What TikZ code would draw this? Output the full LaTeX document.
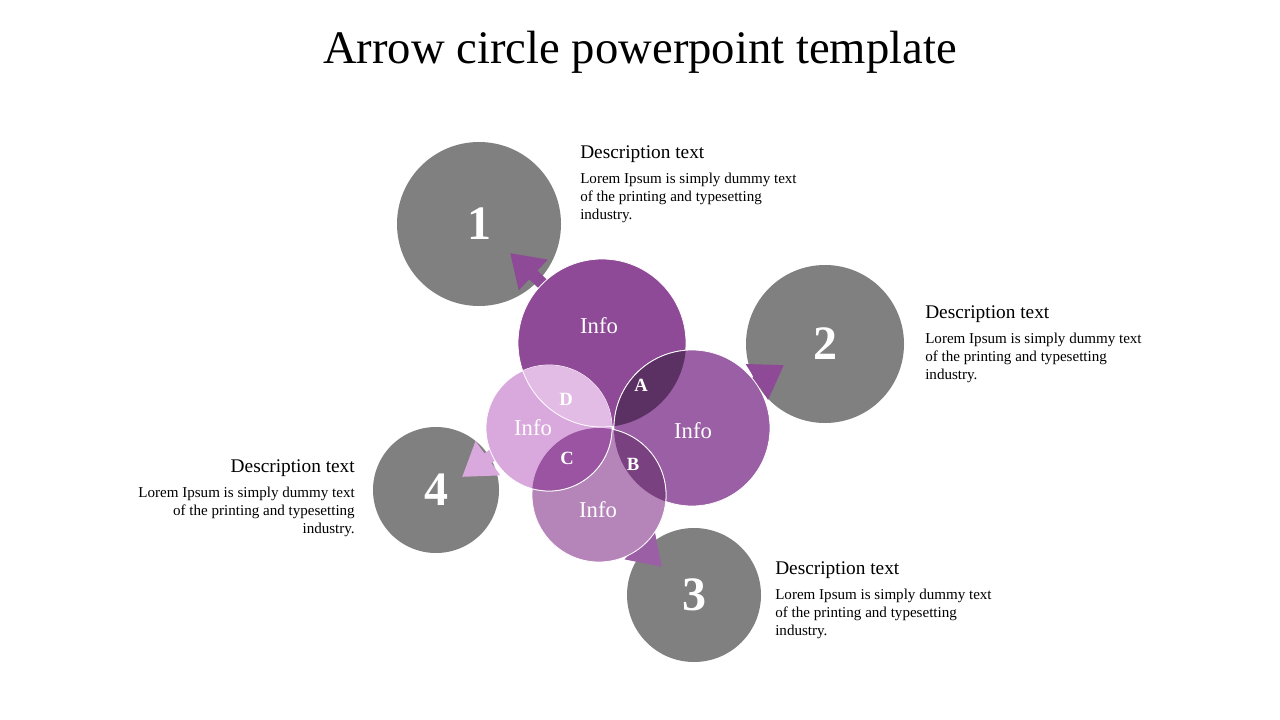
\documentclass[tikz,border=0pt]{standalone}
\usepackage{fontspec}
\setmainfont{Liberation Serif}
\usetikzlibrary{arrows.meta}
\definecolor{gr}{HTML}{808080}
\definecolor{p1}{HTML}{8E4A96}
\definecolor{p2}{HTML}{9A5FA5}
\definecolor{p3}{HTML}{B585BA}
\definecolor{p4}{HTML}{D9A9DD}
\definecolor{pa}{HTML}{5B3163}
\definecolor{pb}{HTML}{7A4180}
\definecolor{pc}{HTML}{9A54A2}
\definecolor{pd}{HTML}{E3BCE6}
\tikzset{
    gcirc/.style={circle,fill=gr,inner sep=0,outer sep=0,text=white,font=\bfseries\fontsize{36}{36}\selectfont},
    pcirc/.style={circle,draw=white,inner sep=0,outer sep=0,line width=0.6pt},
    info/.style={text=white,font=\fontsize{17}{17}\selectfont},
    arr/.style={line width=9, -{Triangle[length=24,width=30]}},
    head/.style={font=\fontsize{14.5}{14.5}\selectfont,anchor=north west,inner sep=0},
    body/.style={font=\fontsize{11.3}{13.5}\selectfont,anchor=north west,align=left,inner sep=0},
    letter/.style={text=white,font=\bfseries\fontsize{14}{14}\selectfont}
}
\begin{document}
\begin{tikzpicture}[x=0.75pt,y=-0.75pt]
    \useasboundingbox (0,0) rectangle (1280,720);
    % Title
    \node[font=\fontsize{35}{35}\selectfont] (title) at (640,52) {Arrow circle powerpoint template};

    % Gray circles
    \node[gcirc,minimum size=123pt] (g1) at (479,224) {1};
    \node[gcirc,minimum size=118.5pt] (g2) at (825,344) {2};
    \node[gcirc,minimum size=100.5pt] (g3) at (694,595) {3};
    \node[gcirc,minimum size=94.5pt] (g4) at (436,490) {4};

    % Arrows
    \coordinate (a1s) at (565,305); \coordinate (a1e) at (510,253);
    \coordinate (a2s) at (720,405); \coordinate (a2e) at (784,365);
    \coordinate (a3s) at (615,520); \coordinate (a3e) at (662,567);
    \coordinate (a4s) at (520,435); \coordinate (a4e) at (462,477);
    \draw[arr,p1] (a1s) -- (a1e);
    \draw[arr,p1] (a2s) -- (a2e);
    \draw[arr,p2] (a3s) -- (a3e);
    \draw[arr,p4] (a4s) -- (a4e);

    % Purple circles
    \node[pcirc,fill=p1,minimum size=126pt] (ctop) at (602,343) {};
    \node[pcirc,fill=p2,minimum size=117pt] (cright) at (692,428) {};
    \node[pcirc,fill=p3,minimum size=100.5pt] (cbot) at (599,495) {};
    \node[pcirc,fill=p4,minimum size=94.5pt] (cleft) at (549,428) {};

    % Overlaps
    \begin{scope}
        \clip (602,343) circle (84);
        \fill[pa,draw=white,line width=0.6pt] (692,428) circle (78);
    \end{scope}
    \begin{scope}
        \clip (692,428) circle (78);
        \fill[pb,draw=white,line width=0.6pt] (599,495) circle (67);
    \end{scope}
    \begin{scope}
        \clip (599,495) circle (67);
        \fill[pc,draw=white,line width=0.6pt] (549,428) circle (63);
    \end{scope}
    \begin{scope}
        \clip (549,428) circle (63);
        \fill[pd,draw=white,line width=0.6pt] (602,343) circle (84);
    \end{scope}

    % Labels
    \node[info] (i1) at (599,326) {Info};
    \node[info] (i2) at (693,431) {Info};
    \node[info] (i3) at (598,510) {Info};
    \node[info] (i4) at (533,428) {Info};
    \node[letter] (la) at (641,385) {A};
    \node[letter] (lb) at (633,464) {B};
    \node[letter] (lc) at (567,458) {C};
    \node[letter] (ld) at (566,399) {D};

    % Descriptions
    \node[head] (h1) at (580,145) {Description text};
    \node[body] (t1) at (580,173) {Lorem Ipsum is simply dummy text\\of the printing and typesetting\\industry.};
    \node[head] (h2) at (925,305) {Description text};
    \node[body] (t2) at (925,333) {Lorem Ipsum is simply dummy text\\of the printing and typesetting\\industry.};
    \node[head] (h3) at (775,561) {Description text};
    \node[body] (t3) at (775,589) {Lorem Ipsum is simply dummy text\\of the printing and typesetting\\industry.};
    \node[head,anchor=north east] (h4) at (355,459) {Description text};
    \node[body,anchor=north east,align=right] (t4) at (355,487) {Lorem Ipsum is simply dummy text\\of the printing and typesetting\\industry.};
\end{tikzpicture}
\end{document}
